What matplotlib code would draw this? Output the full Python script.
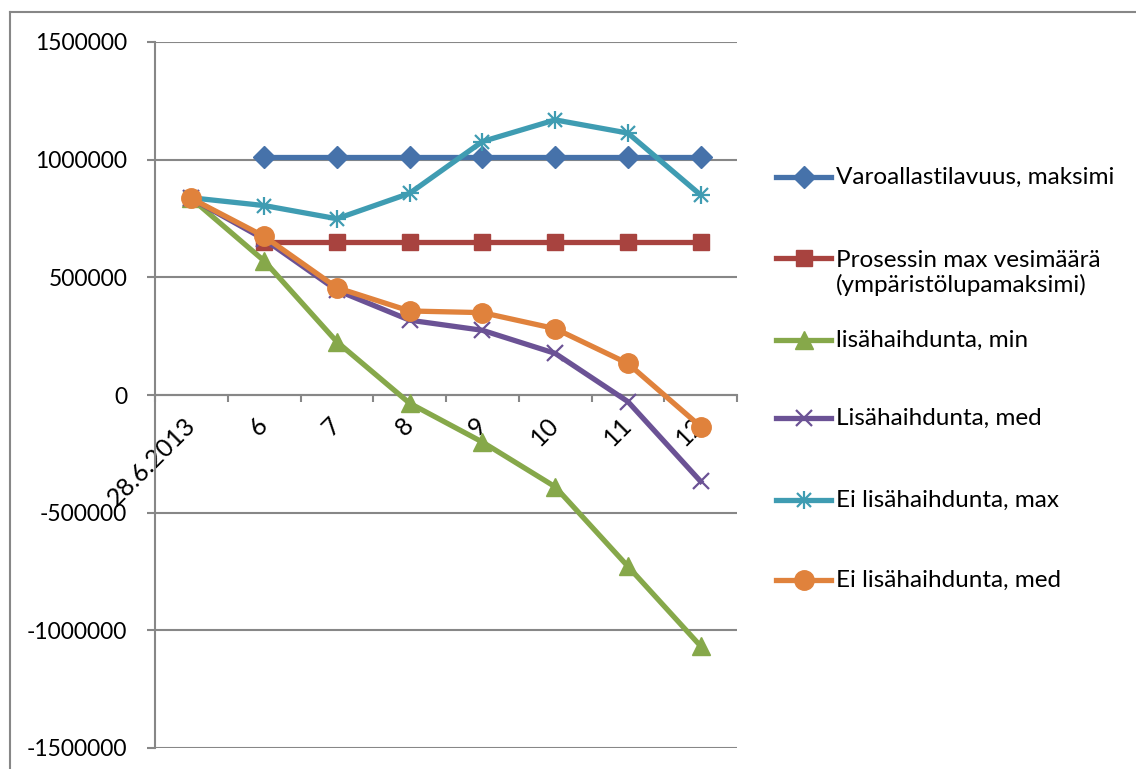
import matplotlib.pyplot as plt
from matplotlib.lines import Line2D
import numpy as np

plt.rcParams['font.family'] = ['Lato', 'DejaVu Sans']

# data
categories = ['28.6.2013', '6', '7', '8', '9', '10', '11', '12']
varoallas_max = [np.nan, 1010000, 1010000, 1010000, 1010000, 1010000, 1010000, 1010000]
prosessi_max = [np.nan, 650000, 650000, 650000, 650000, 650000, 650000, 650000]
lisa_min = [835000, 570000, 226000, -35000, -200000, -390000, -728000, -1067000]
lisa_med = [835000, 662000, 445000, 318000, 275000, 177000, -28000, -367000]
ei_lisa_max = [838000, 805000, 749000, 857000, 1077000, 1169000, 1113000, 850000]
ei_lisa_med = [835000, 674000, 456000, 357000, 350000, 282000, 134000, -134000]

series = [
    ('Varoallastilavuus, maksimi', varoallas_max, '#4672AA', 'D', 11),
    ('Prosessin max vesimäärä\n(ympäristölupamaksimi)', prosessi_max, '#A8433F', 's', 12),
    ('lisähaihdunta, min', lisa_min, '#86A84A', '^', 13),
    ('Lisähaihdunta, med', lisa_med, '#6B5295', 'x', 12),
    ('Ei lisähaihdunta, max', ei_lisa_max, '#3F9CB2', '*', 13),
    ('Ei lisähaihdunta, med', ei_lisa_med, '#E0823C', 'o', 14),
]

W, H = 1136, 769
fig = plt.figure(figsize=(W / 100, H / 100), dpi=100)
ax = fig.add_axes([155 / W, 21 / H, (737 - 155) / W, (748 - 42) / H])

grey = '#878787'
x = np.arange(len(categories))


def draw_marker(target, xs, ys, col, mk, ms, **kw):
    # asterisk = plus + cross on top of each other
    if mk == '*':
        target.plot(xs, ys, color=col, lw=0, marker='+', ms=ms, mew=1.6, **kw)
        target.plot(xs, ys, color=col, lw=0, marker='x', ms=ms * 0.8, mew=1.6, **kw)
    elif mk == 'x':
        target.plot(xs, ys, color=col, lw=0, marker='x', ms=ms, mew=1.6, **kw)
    else:
        target.plot(xs, ys, color=col, lw=0, marker=mk, ms=ms, mec=col, mfc=col, **kw)


for name, vals, col, mk, ms in series:
    ax.plot(x, vals, color=col, lw=3.8, zorder=3)
    draw_marker(ax, x, vals, col, mk, ms, zorder=3)

ax.set_xlim(-0.5, 7.5)
ax.set_ylim(-1500000, 1500000)
ax.set_yticks(np.arange(-1500000, 1500001, 500000))
ax.set_yticklabels([str(v) for v in range(-1500000, 1500001, 500000)], fontsize=16.5)
ax.yaxis.grid(True, color=grey, lw=1.5)
ax.set_axisbelow(True)

for s in ['top', 'right']:
    ax.spines[s].set_visible(False)
ax.spines['left'].set_color(grey)
ax.spines['left'].set_linewidth(1.5)
ax.spines['bottom'].set_position(('data', 0))
ax.spines['bottom'].set_color(grey)
ax.spines['bottom'].set_linewidth(1.5)

ax.tick_params(axis='y', direction='out', length=6, width=1.5, color=grey, pad=14)
ax.set_xticks(np.arange(-0.5, 8, 1))
ax.set_xticklabels([])
ax.tick_params(axis='x', which='major', direction='out', length=5, width=1.5, color=grey)
ax.set_xticks(x, minor=True)
ax.set_xticklabels(categories, minor=True, fontsize=18, rotation=45,
                   ha='right', va='center', rotation_mode='anchor')
ax.tick_params(axis='x', which='minor', length=0, pad=19)

# outer frame
fig.add_artist(Line2D([10 / W, 1], [1 - 12 / H, 1 - 12 / H], color=grey, lw=1.5, transform=fig.transFigure))
fig.add_artist(Line2D([10 / W, 10 / W], [0, 1 - 12 / H], color=grey, lw=1.5, transform=fig.transFigure))

# legend
leg_y = [177, 258, 340, 418, 500, 580]
for (name, vals, col, mk, ms), ly in zip(series, leg_y):
    yf = 1 - ly / H
    fig.add_artist(Line2D([776 / W, 831 / W], [yf, yf], color=col, lw=3.8, transform=fig.transFigure))
    hx = [803.5 / W]
    if mk == '*':
        fig.add_artist(Line2D(hx, [yf], color=col, lw=0, marker='+', ms=ms, mew=1.6, transform=fig.transFigure))
        fig.add_artist(Line2D(hx, [yf], color=col, lw=0, marker='x', ms=ms * 0.8, mew=1.6, transform=fig.transFigure))
    elif mk == 'x':
        fig.add_artist(Line2D(hx, [yf], color=col, lw=0, marker='x', ms=ms, mew=1.6, transform=fig.transFigure))
    else:
        fig.add_artist(Line2D(hx, [yf], color=col, lw=0, marker=mk, ms=ms, mfc=col, mec=col,
                              transform=fig.transFigure))
    ty = yf - (15 / H if '\n' in name else 0)
    fig.text(836 / W, ty, name, fontsize=17.5, va='center', ha='left', linespacing=1.2)

fig.savefig('out.png', dpi=100)
